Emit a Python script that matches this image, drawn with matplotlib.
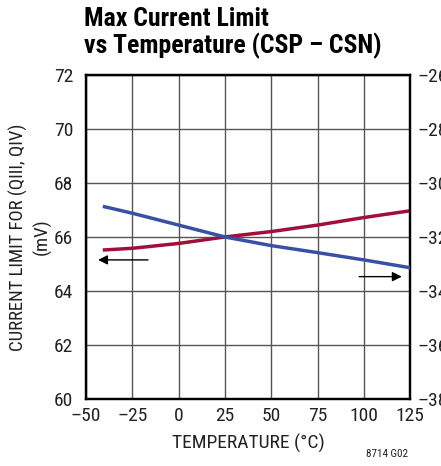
import matplotlib
matplotlib.use("Agg")
import matplotlib.pyplot as plt

plt.rcParams['font.family'] = ['Roboto Condensed', 'DejaVu Sans']

# data
temp = [-40, -25, 0, 25, 50, 75, 100, 125]
red_mv = [65.52, 65.58, 65.76, 66.0, 66.2, 66.44, 66.72, 66.97]      # left axis
blue_mv = [-30.88, -31.12, -31.56, -32.0, -32.32, -32.58, -32.85, -33.14]  # right axis

xticks = [-50, -25, 0, 25, 50, 75, 100, 125]
yticks_left = [60, 62, 64, 66, 68, 70, 72]
yticks_right = [-38, -36, -34, -32, -30, -28, -26]

def minus(v):
    return str(v).replace('-', '\u2013')

fig = plt.figure(figsize=(4.41, 4.66), dpi=100)
ax = fig.add_axes([0.195, 0.144, 0.735, 0.695])
ax2 = ax.twinx()

ax.set_xlim(-50, 125)
ax.set_ylim(60, 72)
ax2.set_ylim(-38, -26)

ax.set_xticks(xticks)
ax.set_xticklabels([minus(v) for v in xticks])
ax.set_yticks(yticks_left)
ax2.set_yticks(yticks_right)
ax2.set_yticklabels([minus(v) for v in yticks_right])

ax.grid(True, color='#555555', linewidth=1.0)
ax.tick_params(length=0, labelsize=14, pad=9, labelcolor='#222222')
ax.tick_params(axis='x', pad=6)
ax2.tick_params(length=0, labelsize=14, pad=5, labelcolor='#222222')
for a in (ax, ax2):
    for s in a.spines.values():
        s.set_linewidth(1.6)
        s.set_color('black')

ax.plot(temp, red_mv, color='#a0103a', linewidth=2.5, zorder=3)
ax2.plot(temp, blue_mv, color='#3a4fa8', linewidth=2.5, zorder=3)

# axis pointer arrows
ax.annotate('', xy=(-45, 65.15), xytext=(-15, 65.15),
            arrowprops=dict(arrowstyle='-|>', color='black', lw=1, mutation_scale=14))
ax.annotate('', xy=(122, 64.53), xytext=(96, 64.53),
            arrowprops=dict(arrowstyle='-|>', color='black', lw=1, mutation_scale=14))

ax.set_xlabel('TEMPERATURE (°C)', fontsize=14, labelpad=6, color='#222222')
ax.set_ylabel('CURRENT LIMIT FOR (QIII, QIV)\n(mV)', fontsize=13.5, labelpad=2,
              color='#222222', linespacing=1.3)

fig.text(0.19, 0.985, 'Max Current Limit\nvs Temperature (CSP \u2013 CSN)',
         fontsize=18.5, fontweight='bold', ha='left', va='top', linespacing=1.1)
fig.text(0.925, 0.015, '8714 G02', fontsize=8, ha='right', va='bottom', color='#222222')

fig.savefig('out.png', dpi=100)
